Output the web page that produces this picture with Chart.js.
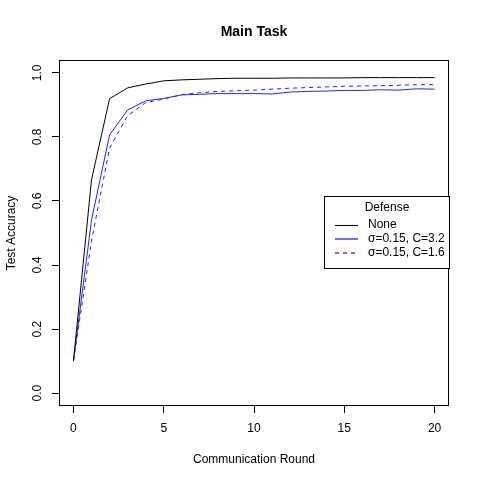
<!DOCTYPE html>
<html>
<head>
<meta charset="utf-8">
<script src="https://cdn.jsdelivr.net/npm/chart.js@4"></script>
<style>
html,body{margin:0;padding:0;background:#fff;}
#wrap{width:480px;height:480px;}
</style>
</head>
<body>
<div id="wrap"><canvas id="c" width="480" height="480"></canvas></div>
<script>
const rounds = [0,1,2,3,4,5,6,7,8,9,10,11,12,13,14,15,16,17,18,19,20];
const accNone = [0.1,0.666,0.919,0.953,0.965,0.975,0.978,0.980,0.982,0.983,0.983,0.983,0.984,0.984,0.984,0.984,0.985,0.985,0.985,0.985,0.985];
const accS015C32 = [0.1,0.54,0.806,0.884,0.9125,0.92,0.931,0.933,0.935,0.935,0.935,0.934,0.94,0.942,0.943,0.945,0.945,0.947,0.946,0.95,0.949];
const accS015C16 = [0.1,0.475,0.765,0.866,0.907,0.918,0.932,0.938,0.942,0.944,0.946,0.949,0.952,0.954,0.956,0.958,0.959,0.96,0.961,0.963,0.963];
const seriesLabels = ['None','\u03C3=0.15, C=3.2','\u03C3=0.15, C=1.6'];
const seriesColors = ['#000000','#2020ff','#2020ff'];
const seriesDash = [[],[],[4,4]];
const xTicks = [0,5,10,15,20];
const yTicks = [0,0.2,0.4,0.6,0.8,1.0];
const yTickLabels = ['0.0','0.2','0.4','0.6','0.8','1.0'];
const titleText = 'Main Task';
const xTitle = 'Communication Round';
const yTitle = 'Test Accuracy';
const legendTitle = 'Defense';

const FONT = '"Liberation Sans", Arial, Helvetica, sans-serif';

function pts(arr){ return rounds.map((r,i)=>({x:r,y:arr[i]})); }

const decor = {
  id:'decor',
  afterDraw(chart){
    const ctx = chart.ctx, a = chart.chartArea;
    const ys = chart.scales.y;
    ctx.save();
    ctx.strokeStyle = '#000'; ctx.lineWidth = 1;
    ctx.strokeRect(Math.round(a.left)+0.5, Math.round(a.top)+0.5, Math.round(a.right-a.left)-1, Math.round(a.bottom-a.top)-1);
    ctx.fillStyle = '#000';
    ctx.textAlign = 'center'; ctx.textBaseline = 'middle';
    ctx.font = 'bold 14px ' + FONT;
    ctx.fillText(titleText, (a.left+a.right)/2, 32);
    ctx.font = '12px ' + FONT;
    ctx.fillText(xTitle, (a.left+a.right)/2, 460);
    ctx.save();
    ctx.translate(12, (a.top+a.bottom)/2);
    ctx.rotate(-Math.PI/2);
    ctx.fillText(yTitle, 0, 0);
    ctx.restore();
    yTicks.forEach((v,i)=>{
      const py = ys.getPixelForValue(v);
      ctx.save();
      ctx.translate(38, py);
      ctx.rotate(-Math.PI/2);
      ctx.fillText(yTickLabels[i], 0, 0);
      ctx.restore();
    });
    // legend
    const lx = 324, ly = 196, lw = 125, lh = 72;
    ctx.fillStyle = '#fff';
    ctx.fillRect(lx, ly, lw, lh);
    ctx.strokeStyle = '#000';
    ctx.strokeRect(lx+0.5, ly+0.5, lw, lh);
    ctx.fillStyle = '#000';
    ctx.textAlign = 'center';
    ctx.fillText(legendTitle, 387, 208);
    const rowsY = [225, 239, 253];
    seriesLabels.forEach((lab,i)=>{
      const y = rowsY[i];
      ctx.save();
      ctx.beginPath();
      ctx.strokeStyle = seriesColors[i];
      ctx.lineWidth = i === 0 ? 1 : 1.3;
      ctx.setLineDash(seriesDash[i]);
      ctx.moveTo(335, i === 0 ? y + 0.5 : y); ctx.lineTo(358, i === 0 ? y + 0.5 : y);
      ctx.stroke();
      ctx.restore();
      ctx.fillStyle = '#000';
      ctx.textAlign = 'left';
      ctx.fillText(lab, 368, y);
    });
    ctx.restore();
  }
};

new Chart(document.getElementById('c'), {
  type:'line',
  data:{
    datasets:[
      {label:seriesLabels[0], data:pts(accNone), borderColor:seriesColors[0], borderWidth:1, borderDash:seriesDash[0], pointRadius:0, fill:false, tension:0},
      {label:seriesLabels[1], data:pts(accS015C32), borderColor:seriesColors[1], borderWidth:1, borderDash:seriesDash[1], pointRadius:0, fill:false, tension:0},
      {label:seriesLabels[2], data:pts(accS015C16), borderColor:seriesColors[2], borderWidth:1, borderDash:seriesDash[2], pointRadius:0, fill:false, tension:0}
    ]
  },
  options:{
    responsive:false,
    animation:false,
    devicePixelRatio:1,
    layout:{padding:{left:0,right:31,top:60,bottom:0}},
    plugins:{legend:{display:false}, title:{display:false}, tooltip:{enabled:false}},
    scales:{
      x:{
        type:'linear', min:-0.8, max:20.8,
        afterBuildTicks(s){ s.ticks = xTicks.map(v=>({value:v})); },
        afterFit(s){ s.height = 74; },
        grid:{drawOnChartArea:false, drawTicks:true, tickLength:7, color:'#000', tickColor:'#000'},
        border:{display:false},
        ticks:{color:'#000', font:{family:FONT, size:12}, padding:8, maxRotation:0, callback:(v)=>String(v)}
      },
      y:{
        type:'linear', min:-0.04, max:1.04,
        afterBuildTicks(s){ s.ticks = yTicks.map(v=>({value:v})); },
        afterFit(s){ s.width = 59; },
        grid:{drawOnChartArea:false, drawTicks:true, tickLength:7, color:'#000', tickColor:'#000'},
        border:{display:false},
        ticks:{display:false}
      }
    }
  },
  plugins:[decor]
});
</script>
</body>
</html>
